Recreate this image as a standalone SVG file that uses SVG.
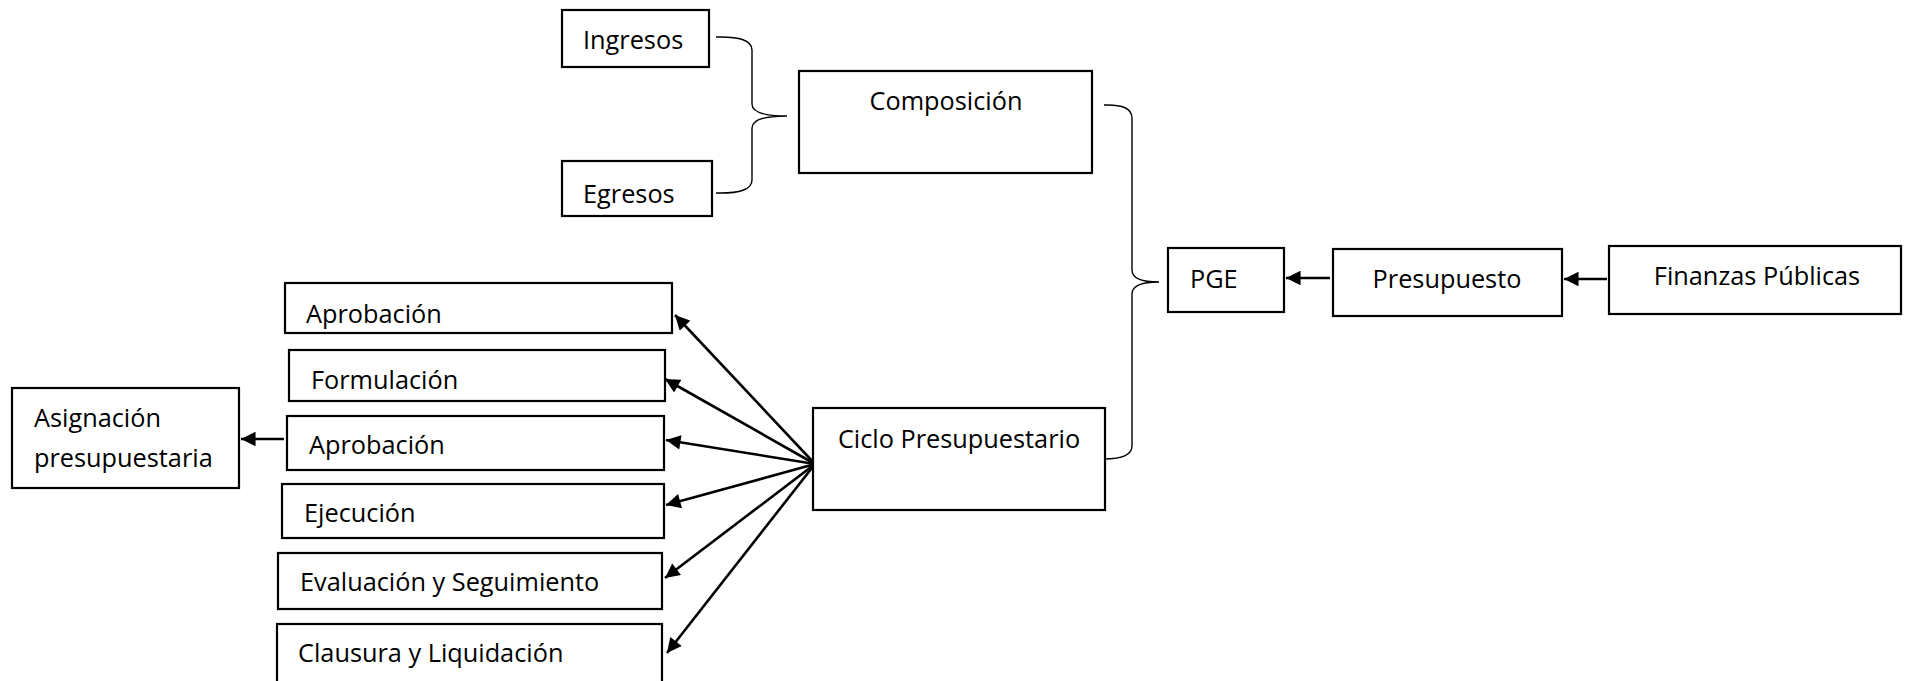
<svg xmlns="http://www.w3.org/2000/svg" width="1913" height="681" viewBox="0 0 1913 681">
<style>
.box{fill:#fff;stroke:#000;stroke-width:2.2}
.t{font-family:"Open Sans","Liberation Sans",sans-serif;font-size:25.3px;fill:#000}
.c{text-anchor:middle}
.arr{stroke:#000;stroke-width:2.6;fill:none;marker-end:url(#ah)}
.br{stroke:#000;stroke-width:1.4;fill:none}
</style>
<defs>
<marker id="ah" viewBox="0 0 10 10" refX="10" refY="5" markerWidth="6" markerHeight="5.6" orient="auto" markerUnits="strokeWidth">
<path d="M0,0 L10,5 L0,10 z" fill="#000"/>
</marker>
<clipPath id="clipA"><rect x="286" y="284" width="385" height="48"/></clipPath>
</defs>
<rect width="1913" height="681" fill="#fff"/>
<g id="connectors">
<path class="br" d="M716,37 Q752,36 752,50 L752,104 Q752,116 787,116 Q752,116 752,128 L752,180 Q752,194 716,193"/>
<path class="br" d="M1104,105 Q1132,104 1132,118 L1132,270 Q1132,282 1159,282 Q1132,282 1132,294 L1132,446 Q1132,459 1104,459"/>
<line class="arr" x1="1330" y1="278" x2="1286" y2="278"/>
<line class="arr" x1="1607" y1="279" x2="1564" y2="279"/>
<line class="arr" x1="284" y1="439" x2="241" y2="439"/>
<line class="arr" x1="815" y1="464" x2="675" y2="315"/>
<line class="arr" x1="815" y1="464" x2="665" y2="379"/>
<line class="arr" x1="815" y1="464" x2="666" y2="440"/>
<line class="arr" x1="815" y1="464" x2="666" y2="505"/>
<line class="arr" x1="815" y1="464" x2="665" y2="578"/>
<line class="arr" x1="815" y1="464" x2="667" y2="653"/>
</g>
<g id="ingresos"><rect class="box" x="562" y="10" width="147" height="57"/><text class="t" x="583" y="49">Ingresos</text></g>
<g id="egresos"><rect class="box" x="562" y="161" width="150" height="55"/><text class="t" x="583" y="203">Egresos</text></g>
<g id="composicion"><rect class="box" x="799" y="71" width="293" height="102"/><text class="t c" x="946" y="110">Composición</text></g>
<g id="pge"><rect class="box" x="1168" y="248" width="116" height="64"/><text class="t" x="1190" y="288">PGE</text></g>
<g id="presupuesto"><rect class="box" x="1333" y="249" width="229" height="67"/><text class="t c" x="1447" y="288">Presupuesto</text></g>
<g id="finanzas"><rect class="box" x="1609" y="246" width="292" height="68"/><text class="t c" x="1757" y="285">Finanzas Públicas</text></g>
<g id="ciclo"><rect class="box" x="813" y="408" width="292" height="102"/><text class="t c" x="959" y="448">Ciclo Presupuestario</text></g>
<g id="aprobacion1"><rect class="box" x="285" y="283" width="387" height="50"/><text class="t" x="306" y="323" clip-path="url(#clipA)">Aprobación</text><line x1="285" y1="333" x2="672" y2="333" stroke="#000" stroke-width="2.2"/></g>
<g id="formulacion"><rect class="box" x="289" y="350" width="376" height="51"/><text class="t" x="311" y="389">Formulación</text></g>
<g id="aprobacion2"><rect class="box" x="287" y="416" width="377" height="54"/><text class="t" x="309" y="454">Aprobación</text></g>
<g id="ejecucion"><rect class="box" x="282" y="484" width="382" height="54"/><text class="t" x="304" y="522">Ejecución</text></g>
<g id="evaluacion"><rect class="box" x="278" y="553" width="384" height="56"/><text class="t" x="300" y="591">Evaluación y Seguimiento</text></g>
<g id="clausura"><rect class="box" x="277" y="624" width="385" height="60"/><text class="t" x="298" y="662">Clausura y Liquidación</text></g>
<g id="asignacion"><rect class="box" x="12" y="388" width="227" height="100"/><text class="t" x="34" y="427">Asignación</text><text class="t" x="34" y="467">presupuestaria</text></g>
</svg>
